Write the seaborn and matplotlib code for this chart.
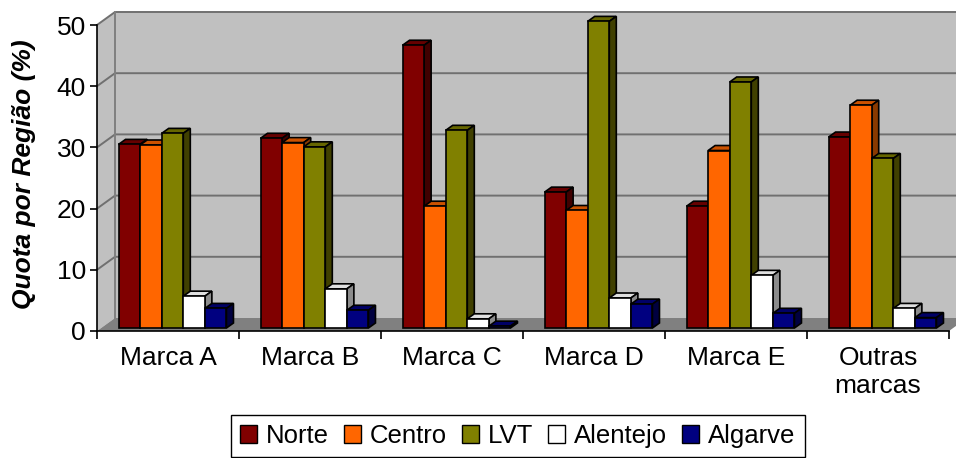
import numpy as np
import pandas as pd
import seaborn as sns
import matplotlib.pyplot as plt
from matplotlib.patches import Polygon, Patch
from matplotlib.lines import Line2D

# Market share by region for each brand (%)
marcas = ["Marca A", "Marca B", "Marca C", "Marca D", "Marca E", "Outras\nmarcas"]
regioes = ["Norte", "Centro", "LVT", "Alentejo", "Algarve"]
norte = [30.0, 31.0, 46.2, 22.2, 19.9, 31.2]
centro = [29.9, 30.3, 19.9, 19.2, 29.0, 36.4]
lvt = [31.8, 29.6, 32.3, 50.1, 40.2, 27.7]
alentejo = [5.2, 6.4, 1.5, 4.9, 8.6, 3.2]
algarve = [3.2, 2.9, 0.3, 3.9, 2.4, 1.7]

front_colors = ["#800000", "#FF6600", "#808000", "#FFFFFF", "#000080"]
top_colors = ["#660000", "#CC5200", "#666600", "#E0E0E0", "#000066"]
side_colors = ["#400000", "#8A3A00", "#404000", "#8C8C8C", "#000040"]

df = pd.DataFrame({
    "marca": np.repeat(marcas, len(regioes)),
    "regiao": regioes * len(marcas),
    "quota": [v for row in zip(norte, centro, lvt, alentejo, algarve) for v in row],
})

W, H, DPI = 956, 458, 100
fig = plt.figure(figsize=(W / DPI, H / DPI), dpi=DPI)
fig.patch.set_facecolor("white")

# front plane of the plot box in pixels
x_left, x_right, y_zero, y_top = 97, 949, 331, 25
ax = fig.add_axes([x_left / W, (H - y_zero) / H,
                   (x_right - x_left) / W, (y_zero - y_top) / H])
ax.patch.set_visible(False)

sns.barplot(data=df, x="marca", y="quota", hue="regiao", order=marcas,
            hue_order=regioes, palette=front_colors, saturation=1,
            width=0.76, errorbar=None, edgecolor="black", linewidth=1.2,
            legend=False, ax=ax)

ax.set_xlim(-0.5, len(marcas) - 0.5)
ax.set_ylim(0, 50)

# pixel -> data unit conversion
px_x = (x_right - x_left) / len(marcas)
px_y = (y_zero - y_top) / 50.0
def dx(p):
    return p / px_x
def dy(p):
    return p / px_y

# walls and floor (perspective offset of the back plane)
wx, wy = dx(18), dy(13)
x0, x1 = -0.5, len(marcas) - 0.5
wall_col = "#C0C0C0"
grid_col = "#707070"
ax.add_patch(Polygon([(x0 + wx, wy), (x1 + wx + 1, wy), (x1 + wx + 1, 50 + wy),
                      (x0 + wx, 50 + wy)], closed=True, facecolor=wall_col,
                     edgecolor="none", zorder=0.5, clip_on=False))
ax.add_patch(Polygon([(x0, 0), (x0, 50), (x0 + wx, 50 + wy), (x0 + wx, wy)],
                     closed=True, facecolor=wall_col, edgecolor="none",
                     zorder=0.5, clip_on=False))
ax.add_patch(Polygon([(x0, 0), (x1, 0), (x1 + wx, wy), (x0 + wx, wy)],
                     closed=True, facecolor="#808080", edgecolor="none",
                     zorder=0.6, clip_on=False))
for k in range(10, 51, 10):
    ax.add_line(Line2D([x0, x0 + wx, x1 + wx + 1], [k, k + wy, k + wy],
                       color=grid_col, lw=1.4, zorder=0.7, clip_on=False))
ax.add_line(Line2D([x0 + wx, x0 + wx], [wy, 50 + wy], color="#808080",
                   lw=1.4, zorder=0.7, clip_on=False))

# 3D bars: shift front faces into the depth and add top / side faces
ox, oy = dx(4.5), dy(3)
bx, by = dx(7), dy(5)
for i, cont in enumerate(ax.containers):
    for bar in cont:
        bar.set_x(bar.get_x() + ox)
        bar.set_y(bar.get_y() + oy)
        bar.set_clip_on(False)
        bar.set_zorder(3 + i * 0.1)
        xa = bar.get_x()
        xb = xa + bar.get_width()
        ya = bar.get_y()
        yb = ya + bar.get_height()
        z = 3 + i * 0.1 - 0.05
        ax.add_patch(Polygon([(xa, yb), (xb, yb), (xb + bx, yb + by),
                              (xa + bx, yb + by)], closed=True,
                             facecolor=top_colors[i], edgecolor="black",
                             lw=1.2, zorder=z, clip_on=False))
        ax.add_patch(Polygon([(xb, ya), (xb + bx, ya + by), (xb + bx, yb + by),
                              (xb, yb)], closed=True,
                             facecolor=side_colors[i], edgecolor="black",
                             lw=1.2, zorder=z, clip_on=False))

# axes styling
for s in ["top", "right"]:
    ax.spines[s].set_visible(False)
for s in ["left", "bottom"]:
    ax.spines[s].set_color("black")
    ax.spines[s].set_linewidth(1.2)
    ax.spines[s].set_zorder(5)

font = "Liberation Sans"
ax.set_yticks(range(0, 51, 10))
ax.set_yticklabels([str(v) for v in range(0, 51, 10)], fontsize=19,
                   fontfamily=font)
ax.tick_params(axis="y", length=5, width=1.2, pad=3, color="black")

ax.set_xticks(np.arange(-0.5, len(marcas), 1.0))
ax.set_xticklabels([])
ax.set_xticks(np.arange(len(marcas)), minor=True)
ax.set_xticklabels(marcas, minor=True, fontsize=19, fontfamily=font)
ax.tick_params(axis="x", which="major", length=6, width=1.2, color="black")
ax.tick_params(axis="x", which="minor", length=0, pad=11)
ax.set_xlabel("")

ax.set_ylabel("Quota por Região (%)", fontsize=19, fontfamily=font,
              fontweight="bold", fontstyle="italic")
ax.yaxis.label.set_va("center")
ax.yaxis.set_label_coords((24 - x_left) / (x_right - x_left),
                          (y_zero - 174) / (y_zero - y_top))

handles = [Patch(facecolor=c, edgecolor="black", lw=1.0) for c in front_colors]
leg = fig.legend(handles, regioes, loc="upper left",
                 bbox_to_anchor=(231 / W, 1 - 415 / H), ncol=5,
                 frameon=True, fancybox=False, edgecolor="black",
                 framealpha=1, borderaxespad=0, borderpad=0.35,
                 handlelength=0.65, handleheight=0.65, handletextpad=0.37,
                 columnspacing=0.57, prop={"family": font, "size": 18.5})
leg.get_frame().set_linewidth(1.0)

fig.savefig("out.png", dpi=DPI, facecolor="white")
